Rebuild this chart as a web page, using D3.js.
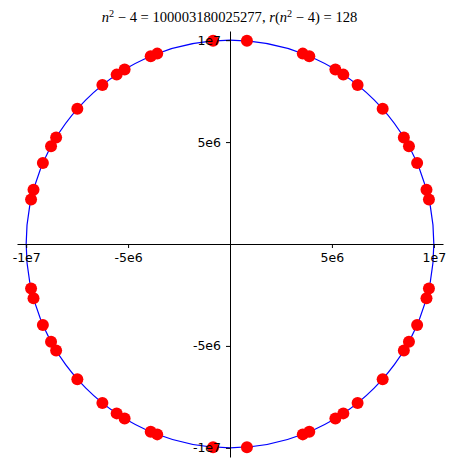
<!DOCTYPE html>
<html>
<head>
<meta charset="utf-8">
<script src="https://cdn.jsdelivr.net/npm/d3@7"></script>
<style>
  body { margin: 0; background: #fff; }
  svg { display: block; }
  .tick text { font-family: "DejaVu Sans", sans-serif; font-size: 12.5px; fill: #000; }
  .title { font-family: "Liberation Serif", "DejaVu Serif", serif; font-size: 14.6px; }
</style>
</head>
<body>
<div id="chart"></div>
<script>
// n^2 - 4 = 100003180025277, lattice points on the circle x^2 + y^2 = N
const N = 100003180025277;

// points (units of 1e6), going round the circle
const ptsX = [
   0.83,  3.57,  3.89,  5.17,  5.56,  6.26,  7.49,  8.53,  8.78,  9.18,  9.64,  9.76,
  -0.83, -3.57, -3.89, -5.17, -5.56, -6.26, -7.49, -8.53, -8.78, -9.18, -9.64, -9.76,
  -0.83, -3.57, -3.89, -5.17, -5.56, -6.26, -7.49, -8.53, -8.78, -9.18, -9.64, -9.76,
   0.83,  3.57,  3.89,  5.17,  5.56,  6.26,  7.49,  8.53,  8.78,  9.18,  9.64,  9.76
];
const ptsY = [
   9.97,  9.34,  9.21,  8.56,  8.31,  7.80,  6.63,  5.22,  4.79,  3.97,  2.66,  2.18,
   9.97,  9.34,  9.21,  8.56,  8.31,  7.80,  6.63,  5.22,  4.79,  3.97,  2.66,  2.18,
  -9.97, -9.34, -9.21, -8.56, -8.31, -7.80, -6.63, -5.22, -4.79, -3.97, -2.66, -2.18,
  -9.97, -9.34, -9.21, -8.56, -8.31, -7.80, -6.63, -5.22, -4.79, -3.97, -2.66, -2.18
];

const majorTicks = [-1e7, -5e6, 5e6, 1e7];
const majorLabels = ['-1e7', '-5e6', '5e6', '1e7'];
const minorTicks = d3.range(-10, 11).map(d => d * 1e6).filter(d => d % 5e6 !== 0);

const width = 457, height = 470;
const lim = 1.045e7;

const svg = d3.select('#chart').append('svg')
  .attr('width', width)
  .attr('height', height);

const x = d3.scaleLinear().domain([-lim, lim]).range([17, 443]);
const y = d3.scaleLinear().domain([-lim, lim]).range([457, 31]);

// title (mathtext look)
const title = svg.append('text')
  .attr('class', 'title')
  .attr('x', 229.5)
  .attr('y', 22)
  .attr('text-anchor', 'middle');
title.append('tspan').attr('font-style', 'italic').text('n');
title.append('tspan').attr('font-size', '10.2px').attr('dy', -5.5).text('2');
title.append('tspan').attr('dy', 5.5).text(' \u2212 4 = 100003180025277, ');
title.append('tspan').attr('font-style', 'italic').text('r');
title.append('tspan').text('(');
title.append('tspan').attr('font-style', 'italic').text('n');
title.append('tspan').attr('font-size', '10.2px').attr('dy', -5.5).text('2');
title.append('tspan').attr('dy', 5.5).text(' \u2212 4) = 128');

// the circle
const R = Math.sqrt(N);
svg.append('ellipse')
  .attr('cx', x(0))
  .attr('cy', y(0))
  .attr('rx', x(R) - x(0))
  .attr('ry', y(0) - y(R))
  .attr('fill', 'none')
  .attr('stroke', 'blue')
  .attr('stroke-width', 1.2);

// axes through the origin
const gx = svg.append('g').attr('transform', `translate(0,${y(0)})`);
gx.call(d3.axisBottom(x).tickValues(minorTicks).tickSize(2.5).tickFormat(''));
gx.call(d3.axisBottom(x).tickValues(majorTicks).tickSizeInner(4).tickSizeOuter(0).tickPadding(5)
  .tickFormat((d, i) => majorLabels[i]));

const gy = svg.append('g').attr('transform', `translate(${x(0)},0)`);
gy.call(d3.axisLeft(y).tickValues(minorTicks).tickSize(2.5).tickFormat(''));
gy.call(d3.axisLeft(y).tickValues(majorTicks).tickSizeInner(4).tickSizeOuter(0).tickPadding(5)
  .tickFormat((d, i) => majorLabels[i]));

svg.selectAll('.domain, .tick line').attr('stroke', '#000').attr('stroke-width', 1);

// lattice points
const pts = ptsX.map((d, i) => ({ x: d * 1e6, y: ptsY[i] * 1e6 }));
svg.append('g').selectAll('circle')
  .data(pts)
  .join('circle')
  .attr('cx', d => x(d.x))
  .attr('cy', d => y(d.y))
  .attr('r', 6)
  .attr('fill', 'red');

// tick labels sit on top of the points like in the picture
gx.raise();
gy.raise();
</script>
</body>
</html>
